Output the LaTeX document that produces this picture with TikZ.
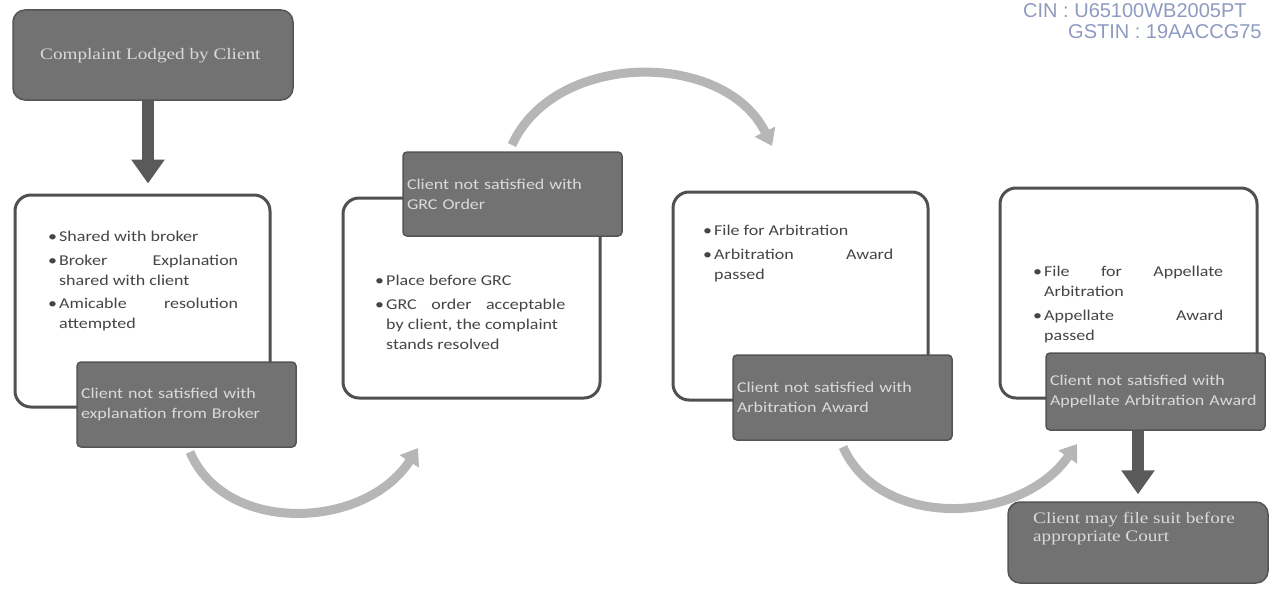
\documentclass[tikz,border=0pt]{standalone}
\usepackage{fontspec}
\setmainfont{Carlito}[FakeStretch=1.2]
\newfontfamily\serifb{Liberation Serif}[FakeStretch=1.2]
\newfontfamily\hdr{Liberation Sans}
\usetikzlibrary{arrows.meta,calc}
\definecolor{darkfill}{HTML}{727272}
\definecolor{darkedge}{HTML}{555555}
\definecolor{boxedge}{HTML}{505050}
\definecolor{boxtext}{HTML}{DADADA}
\definecolor{bultext}{HTML}{454545}
\definecolor{curvecol}{HTML}{B6B6B6}
\definecolor{hdrcol}{HTML}{8E9AC0}
\definecolor{arrowcol}{HTML}{5A5A5A}
\newcommand\bul[1]{\noindent\hangindent=11pt\hangafter=1\makebox[11pt][l]{\textbullet}#1\par\vspace{3.5pt}}
\tikzset{
  x=1pt, y=-1pt,
  darkbox/.style={draw=darkedge, line width=1.5pt, fill=darkfill, rounded corners=4pt,
    text=boxtext, align=left, inner xsep=4pt, inner ysep=0pt, minimum width=219pt,
    text width=211pt, font=\fontsize{15}{20}\selectfont},
  whitebox/.style={draw=boxedge, line width=3pt, fill=white, rounded corners=16pt},
  termbox/.style={draw=darkedge, line width=1.5pt, fill=darkfill, rounded corners=12pt},
  termtext/.style={anchor=north west, inner sep=0pt, text=boxtext, align=left,
    font=\serifb\fontsize{16}{18}\selectfont},
  bullets/.style={anchor=north west, inner sep=0pt, text width=190pt, align=justify,
    font=\fontsize{15}{20}\selectfont, text=bultext},
  bigarrow/.style={draw=arrowcol, line width=12pt, -{Triangle[width=32pt,length=24pt]}},
  curvearrow/.style={draw=curvecol, line width=9pt, -{Triangle[width=22pt,length=16pt]}},
  hdrtext/.style={anchor=base west, inner sep=0pt, text=hdrcol, font=\hdr\fontsize{20}{20}\selectfont},
}
\begin{document}
\begin{tikzpicture}
\useasboundingbox (0,0) rectangle (1273,594);
\clip (0,0) rectangle (1273,594);

% header text
\node[hdrtext] (cin) at (1023,18) {CIN : U65100WB2005PT};
\node[hdrtext] (gst) at (1068,39) {GSTIN : 19AACCG75};

% top terminal box
\node[termbox, minimum width=280pt, minimum height=90pt] (top) at (153,55) {};
\node[termtext] (toptxt) at (40,48) {Complaint Lodged by Client};

% white boxes
\node[whitebox, minimum width=255pt, minimum height=212pt] (b1) at (142.5,301) {};
\node[whitebox, minimum width=257pt, minimum height=200pt] (b2) at (471.5,298) {};
\node[whitebox, minimum width=255pt, minimum height=208pt] (b3) at (800.5,296) {};
\node[whitebox, minimum width=257pt, minimum height=210pt] (b4) at (1128.5,293) {};

% bullets
\node[bullets] (l1) at (48,231) {%
  \bul{Shared with broker}%
  \bul{Broker\hfill Explanation\\shared with client}%
  \bul{Amicable\hfill resolution\\attempted}};
\node[bullets] (l2) at (375,275) {%
  \bul{Place before GRC}%
  \bul{GRC\hfill order\hfill acceptable\\by client, the complaint\\stands resolved}};
\node[bullets] (l3) at (703,225) {%
  \bul{File for Arbitration}%
  \bul{Arbitration\hfill Award\\passed}};
\node[bullets] (l4) at (1033,266) {%
  \bul{File\hfill for\hfill Appellate\\Arbitration}%
  \bul{Appellate\hfill Award\\passed}};

% dark boxes
\node[darkbox, minimum height=85pt] (d1) at (186.5,404.5) {Client not satisfied with\\explanation from Broker};
\node[darkbox, minimum height=84pt] (d2) at (512.5,194) {Client not satisfied with\\GRC Order};
\node[darkbox, minimum height=85pt] (d3) at (842.5,397.5) {Client not satisfied with\\Arbitration Award};
\node[darkbox, minimum height=77pt] (d4) at (1155.5,391.5) {Client not satisfied with\\Appellate Arbitration Award};

% last terminal box
\node[termbox, minimum width=260pt, minimum height=81pt] (last) at (1138,542.5) {};
\node[termtext] (lasttxt) at (1033,512) {Client may file suit before\\appropriate Court};

% block arrows
\draw[bigarrow, shorten >=10pt] ([xshift=-5pt]top.south) -- ([xshift=-5pt]top.south |- b1.north);
\draw[bigarrow, shorten >=7pt] (d4.south -| last.north) -- (last.north);

% curved arrows
\coordinate (c1s) at (190,452);
\coordinate (c1e) at (418,448);
\coordinate (c2s) at (512,145);
\coordinate (c2e) at (772,146);
\coordinate (c3s) at (843,447);
\coordinate (c3e) at (1077,444);
\draw[curvearrow] (c1s) .. controls (225,535) and (365,530) .. (c1e);
\draw[curvearrow] (c2s) .. controls (555,50) and (725,50) .. (c2e);
\draw[curvearrow] (c3s) .. controls (880,530) and (1020,525) .. (c3e);
\end{tikzpicture}
\end{document}
